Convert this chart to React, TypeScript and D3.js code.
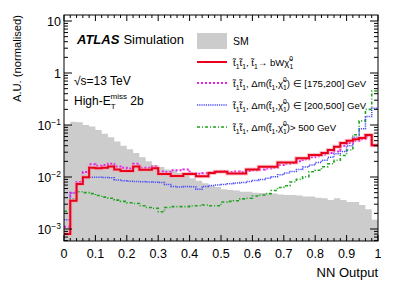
import React from 'react'
import * as d3 from 'd3'

// 50 bins of width 0.02 over NN output [0,1]
const binEdges = d3.range(51).map(i => i / 50)

const smBkg = [0.1, 0.115, 0.113, 0.1, 0.094, 0.08, 0.068, 0.058, 0.048, 0.04,
  0.034, 0.029, 0.024, 0.02, 0.017, 0.0155, 0.014, 0.0135, 0.012, 0.0115,
  0.0095, 0.0085, 0.0076, 0.0068, 0.0064, 0.0058, 0.0056, 0.0055, 0.0052, 0.0052,
  0.005, 0.0049, 0.0049, 0.0048, 0.0046, 0.0045, 0.0045, 0.0044, 0.0042, 0.0042,
  0.004, 0.0039, 0.0036, 0.0039, 0.0036, 0.0033, 0.0033, 0.0029, 0.0024, 0.0015]

const sigBWN = [0.0008, 0.0035, 0.0073, 0.0099, 0.015, 0.0148, 0.015, 0.016, 0.014, 0.013,
  0.013, 0.016, 0.0138, 0.0138, 0.0147, 0.0114, 0.0114, 0.0104, 0.0104, 0.0114,
  0.0114, 0.0103, 0.0103, 0.012, 0.0126, 0.0126, 0.0117, 0.0117, 0.0117, 0.014,
  0.014, 0.0158, 0.0158, 0.0158, 0.019, 0.019, 0.019, 0.023, 0.023, 0.0265,
  0.0265, 0.029, 0.033, 0.038, 0.045, 0.05, 0.053, 0.056, 0.064, 0.041]

const sig175 = [0.0011, 0.005, 0.008, 0.0125, 0.0175, 0.0165, 0.017, 0.018, 0.016, 0.015,
  0.0145, 0.018, 0.015, 0.015, 0.016, 0.0128, 0.0125, 0.0135, 0.0135, 0.014,
  0.0118, 0.0115, 0.0118, 0.0122, 0.0128, 0.013, 0.0125, 0.0128, 0.0125, 0.013,
  0.0135, 0.014, 0.0145, 0.015, 0.017, 0.018, 0.0185, 0.02, 0.022, 0.024,
  0.025, 0.027, 0.029, 0.031, 0.04, 0.045, 0.05, 0.053, 0.06, 0.04]

const sig200 = [0.0015, 0.0049, 0.0077, 0.0097, 0.0099, 0.0099, 0.0098, 0.0097, 0.0088, 0.0085,
  0.0083, 0.0082, 0.0081, 0.008, 0.0079, 0.0078, 0.0072, 0.0066, 0.0064, 0.0066,
  0.0065, 0.0058, 0.0066, 0.0069, 0.007, 0.0072, 0.0074, 0.0077, 0.0078, 0.0082,
  0.0086, 0.009, 0.0095, 0.0101, 0.011, 0.012, 0.0128, 0.014, 0.0155, 0.017,
  0.019, 0.021, 0.024, 0.028, 0.031, 0.04, 0.058, 0.085, 0.145, 0.21]

const sig500 = [0.0022, 0.0038, 0.0052, 0.005, 0.0048, 0.0044, 0.0041, 0.0039, 0.0036, 0.0034,
  0.0032, 0.0031, 0.0028, 0.0026, 0.0025, 0.00215, 0.0026, 0.0027, 0.0027, 0.0027,
  0.0028, 0.0028, 0.0029, 0.0028, 0.0028, 0.0033, 0.0034, 0.0035, 0.0038, 0.0039,
  0.0043, 0.0045, 0.0048, 0.0055, 0.0063, 0.0068, 0.008, 0.009, 0.0101, 0.0126,
  0.0135, 0.0158, 0.018, 0.021, 0.026, 0.033, 0.065, 0.12, 0.2, 0.45]

const xTicks = [0, 0.1, 0.2, 0.3, 0.4, 0.5, 0.6, 0.7, 0.8, 0.9, 1]
const xTickLabels = ['0', '0.1', '0.2', '0.3', '0.4', '0.5', '0.6', '0.7', '0.8', '0.9', '1']
const yDecades = [1e-3, 1e-2, 1e-1, 1, 10]
const yTickLabels = ['10|3', '10|2', '10|1', '1', '10']

const font = "'Liberation Sans', Arial, Helvetica, sans-serif"

const colSM = '#cccccc'
const colRed = '#e8001c'
const colMag = '#e81ee8'
const colBlue = '#4a4aff'
const colGreen = '#1fa31f'

export default function App() {
  const width = 399
  const height = 288
  const marginLeft = 64
  const marginRight = 21
  const marginTop = 15
  const marginBottom = 47

  const x = d3.scaleLinear().domain([0, 1]).range([marginLeft, width - marginRight])
  const y = d3.scaleLog().domain([5.88e-4, 13.05]).range([height - marginBottom, marginTop])

  const yBot = height - marginBottom

  const pts = (vals: number[]) => binEdges.map((e, i) => [e, vals[Math.min(i, vals.length - 1)]] as [number, number])

  const step = d3.line<[number, number]>()
    .x(d => x(d[0]))
    .y(d => y(d[1]))
    .curve(d3.curveStepAfter)

  const stepArea = d3.area<[number, number]>()
    .x(d => x(d[0]))
    .y0(yBot)
    .y1(d => y(d[1]))
    .curve(d3.curveStepAfter)

  const xMinor = d3.range(51).map(i => i / 50)
  const yMinor: number[] = []
  for (let k = -4; k <= 1; k++) {
    for (let m = 2; m <= 9; m++) {
      const v = m * Math.pow(10, k)
      if (v > 5.88e-4 && v < 13.05) yMinor.push(v)
    }
  }

  const legX = 197
  const legTx = 233
  const legFs = 9.6
  const subFs = 6.8

  // t~1 t~1 ,
  const stopPair = (
    <>
      t̃<tspan dy={3} fontSize={subFs}>1</tspan><tspan dy={-3}>t̃</tspan><tspan dy={3} fontSize={subFs}>1</tspan><tspan dy={-3}>, </tspan>
    </>
  )
  // Δm(t~1, chi~1^0)
  const dm = (
    <>
      Δm(t̃<tspan dy={3} fontSize={subFs}>1</tspan><tspan dy={-3}>,χ̃</tspan><tspan dy={3} fontSize={subFs}>1</tspan><tspan dx={-3.8} dy={-8.3} fontSize={subFs}>0</tspan><tspan dy={5.3}>)</tspan>
    </>
  )

  return (
    <svg width={width} height={height} style={{ position: 'absolute', left: 0, top: 0, background: 'white' }} fontFamily={font}>
      {/* SM background */}
      <path d={stepArea(pts(smBkg)) ?? ''} fill={colSM} stroke="none" />

      {/* signals */}
      <path d={step(pts(sig500)) ?? ''} fill="none" stroke={colGreen} strokeWidth={1.6} strokeDasharray="3,2,1,2" />
      <path d={step(pts(sig200)) ?? ''} fill="none" stroke={colBlue} strokeWidth={1.5} strokeDasharray="1.2,1" />
      <path d={step(pts(sig175)) ?? ''} fill="none" stroke={colMag} strokeWidth={2} strokeDasharray="2,2" />
      <path d={step(pts(sigBWN)) ?? ''} fill="none" stroke="#f5a0a8" strokeWidth={4} opacity={0.6} />
      <path d={step(pts(sigBWN)) ?? ''} fill="none" stroke={colRed} strokeWidth={2} />

      {/* frame */}
      <rect x={marginLeft} y={marginTop} width={width - marginLeft - marginRight} height={yBot - marginTop} fill="none" stroke="black" strokeWidth={1} />

      {/* ticks */}
      <g stroke="black" strokeWidth={1}>
        {xMinor.map((v, i) => {
          const l = i % 5 === 0 ? 6 : 3
          return (
            <g key={'xm' + i}>
              <line x1={x(v)} x2={x(v)} y1={yBot} y2={yBot - l} />
              <line x1={x(v)} x2={x(v)} y1={marginTop} y2={marginTop + l} />
            </g>
          )
        })}
        {yMinor.map((v, i) => (
          <g key={'ym' + i}>
            <line x1={marginLeft} x2={marginLeft + 4} y1={y(v)} y2={y(v)} />
            <line x1={width - marginRight} x2={width - marginRight - 4} y1={y(v)} y2={y(v)} />
          </g>
        ))}
        {yDecades.map((v, i) => (
          <g key={'yM' + i}>
            <line x1={marginLeft} x2={marginLeft + 8} y1={y(v)} y2={y(v)} />
            <line x1={width - marginRight} x2={width - marginRight - 8} y1={y(v)} y2={y(v)} />
          </g>
        ))}
      </g>

      {/* x tick labels */}
      <g fontSize={12.5} textAnchor="middle" fill="black">
        {xTicks.map((v, i) => (
          <text key={'xl' + i} x={x(v)} y={yBot + 17}>{xTickLabels[i]}</text>
        ))}
      </g>

      {/* y tick labels */}
      <g fontSize={12.5} fill="black" textAnchor="end">
        {yDecades.map((v, i) => {
          const [base, exp] = yTickLabels[i].split('|')
          if (!exp) return <text key={'yl' + i} x={marginLeft - 3} y={y(v) + 4.5}>{base}</text>
          return (
            <text key={'yl' + i} x={marginLeft - 3} y={y(v) + 4.5}>
              {base}<tspan dy={-5} fontSize={8.5}>{'\u2212' + exp}</tspan>
            </text>
          )
        })}
      </g>

      {/* axis titles */}
      <text x={x(1)} y={277} textAnchor="end" fontSize={13}>NN Output</text>
      <text transform={`translate(21,${marginTop}) rotate(-90)`} textAnchor="end" fontSize={11.2}>A.U. (normalised)</text>

      {/* ATLAS label */}
      <text x={77} y={44} fontSize={13}>
        <tspan fontWeight="bold" fontStyle="italic">ATLAS</tspan>
        <tspan dx={4}>Simulation</tspan>
      </text>
      <text x={74} y={85} fontSize={12}>√s=13 TeV</text>
      <text x={74} y={105} fontSize={12}>
        High-E<tspan dy={4} fontSize={8}>T</tspan><tspan dx={-5} dy={-10} fontSize={8}>miss</tspan><tspan dy={6}> 2b</tspan>
      </text>

      {/* legend */}
      <rect x={legX} y={33} width={30} height={16} fill={colSM} />
      <text x={legTx} y={45} fontSize={10.5}>SM</text>

      <line x1={legX} x2={legX + 30} y1={62} y2={62} stroke={colRed} strokeWidth={2} />
      <text x={legTx} y={66} fontSize={legFs}>
        t̃<tspan dy={3} fontSize={subFs}>1</tspan><tspan dy={-3}>t̃</tspan><tspan dy={3} fontSize={subFs}>1</tspan><tspan dy={-3}>, t̃</tspan><tspan dy={3} fontSize={subFs}>1</tspan><tspan dy={-3}>→ bWχ̃</tspan><tspan dy={3} fontSize={subFs}>1</tspan><tspan dx={-3.8} dy={-8.3} fontSize={subFs}>0</tspan>
      </text>

      <line x1={legX} x2={legX + 30} y1={83} y2={83} stroke={colMag} strokeWidth={2} strokeDasharray="2,2" />
      <text x={legTx} y={87} fontSize={legFs}>
        {stopPair}{dm} ∈ [175,200] GeV
      </text>

      <line x1={legX} x2={legX + 30} y1={105} y2={105} stroke={colBlue} strokeWidth={1.5} strokeDasharray="1.2,1" />
      <text x={legTx} y={109} fontSize={legFs}>
        {stopPair}{dm} ∈ [200,500] GeV
      </text>

      <line x1={legX} x2={legX + 30} y1={127} y2={127} stroke={colGreen} strokeWidth={1.6} strokeDasharray="3,2,1,2" />
      <text x={legTx} y={131} fontSize={legFs}>
        {stopPair}{dm}&gt; 500 GeV
      </text>
    </svg>
  )
}
